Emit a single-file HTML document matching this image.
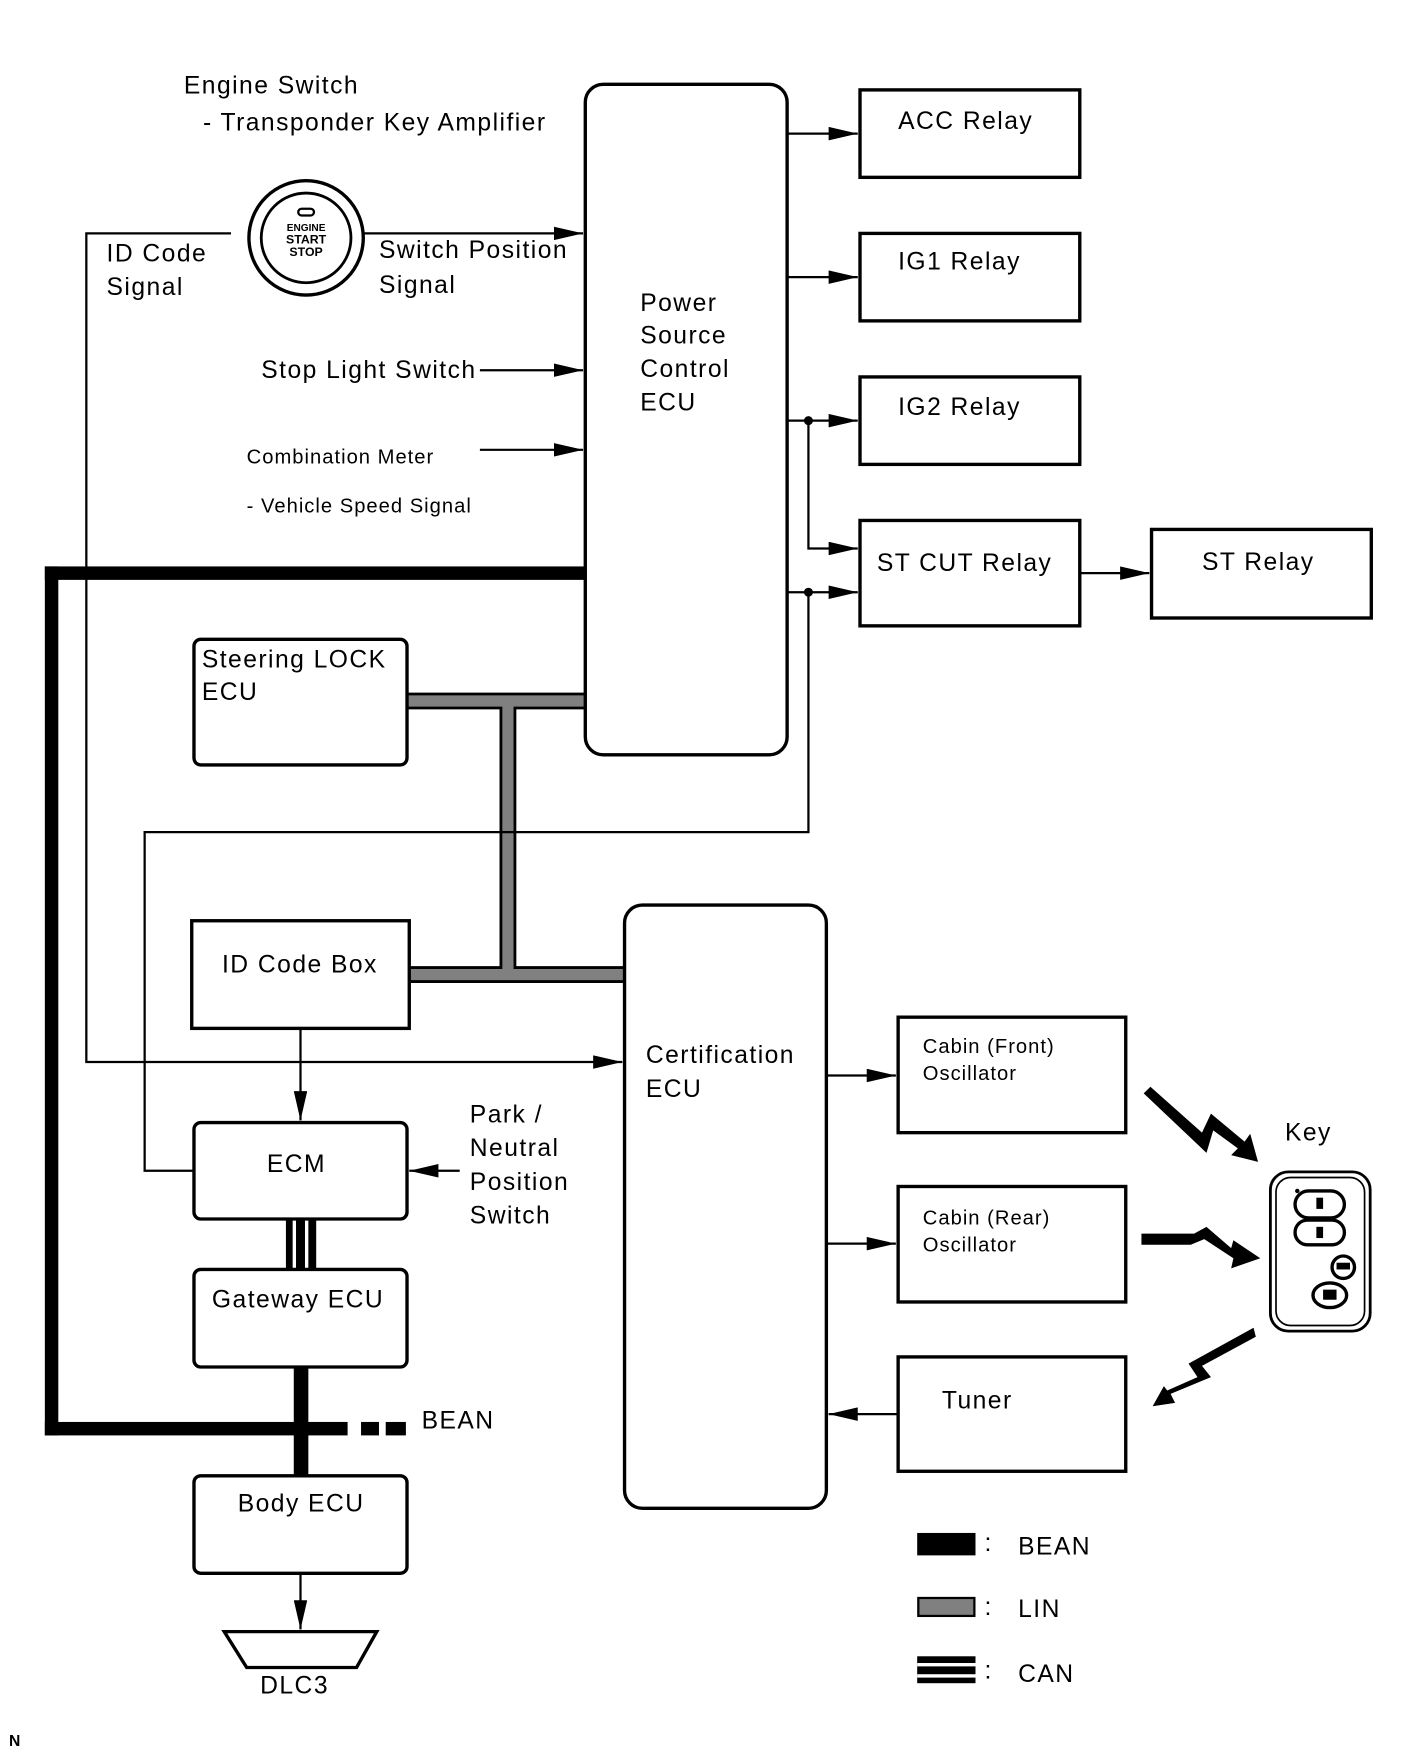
<!DOCTYPE html>
<html><head><meta charset="utf-8"><style>
html,body{margin:0;padding:0;background:#fff;}
svg{display:block;}
text{font-family:"Liberation Sans",Arial,sans-serif;fill:#000;letter-spacing:1.3px;}
text.s{letter-spacing:0.9px;}
</style></head><body>
<svg width="1424" height="1763" viewBox="0 0 1270 1572" xmlns="http://www.w3.org/2000/svg">
<defs>
<marker id="b" viewBox="0 0 10 10" refX="10" refY="5" markerWidth="26" markerHeight="12" markerUnits="userSpaceOnUse" orient="auto" preserveAspectRatio="none"><path d="M0,0 L10,5 L0,10 z" fill="#000"/></marker>
</defs>
<!-- BEAN -->
<g fill="#000">
<rect x="40" y="505" width="482" height="12"/>
<rect x="40" y="505" width="12" height="775"/>
<rect x="40" y="1268" width="270" height="12"/>
<rect x="322" y="1268" width="16" height="12"/><rect x="344" y="1268" width="18" height="12"/>
<rect x="262" y="1219" width="13" height="97"/>
<rect x="818" y="1367" width="52" height="20"/>
</g>
<!-- LIN -->
<g fill="none" stroke-linecap="butt">
<path d="M363,625 H522 M453,625 V869 M365,869 H557" stroke="#000" stroke-width="15"/>
<path d="M363,625 H522 M453,625 V869 M365,869 H557" stroke="#808080" stroke-width="10"/>
</g>
<rect x="819" y="1425" width="50" height="16" fill="#808080" stroke="#000" stroke-width="2"/>
<!-- CAN -->
<rect x="255" y="1087" width="27" height="45" fill="#000"/>
<rect x="261" y="1087" width="3" height="45" fill="#fff"/><rect x="272" y="1087" width="3" height="45" fill="#fff"/>
<rect x="818" y="1477" width="52" height="24" fill="#000"/>
<rect x="818" y="1483" width="52" height="3" fill="#fff"/><rect x="818" y="1493" width="52" height="3" fill="#fff"/>
<!-- boxes -->
<g fill="#fff" stroke="#000" stroke-width="3">
<rect x="522" y="75" width="180" height="598" rx="16"/>
<rect x="557" y="807" width="180" height="538" rx="16"/>
<rect x="767" y="80" width="196" height="78"/>
<rect x="767" y="208" width="196" height="78"/>
<rect x="767" y="336" width="196" height="78"/>
<rect x="767" y="464" width="196" height="94"/>
<rect x="1027" y="472" width="196" height="79"/>
<rect x="173" y="570" width="190" height="112" rx="6"/>
<rect x="171" y="821" width="194" height="96"/>
<rect x="173" y="1001" width="190" height="86" rx="6"/>
<rect x="173" y="1132" width="190" height="87" rx="6"/>
<rect x="173" y="1316" width="190" height="87" rx="6"/>
<rect x="801" y="907" width="203" height="103"/>
<rect x="801" y="1058" width="203" height="103"/>
<rect x="801" y="1210" width="203" height="102"/>
<path d="M200,1455 H336 L318,1487 H220 Z"/>
</g>
<g font-size="22">
<text x="164" y="83">Engine Switch</text>
<text x="181" y="116">- Transponder Key Amplifier</text>
<text x="95" y="233">ID Code</text><text x="95" y="263">Signal</text>
<text x="338" y="230">Switch Position</text><text x="338" y="261">Signal</text>
<text x="233" y="337">Stop Light Switch</text>
<text class="s" x="220" y="413" font-size="18">Combination Meter</text>
<text class="s" x="220" y="457" font-size="18">- Vehicle Speed Signal</text>
<text x="571" y="277">Power</text><text x="571" y="306">Source</text><text x="571" y="336">Control</text><text x="571" y="366">ECU</text>
<text x="801" y="115">ACC Relay</text><text x="801" y="240">IG1 Relay</text><text x="801" y="370">IG2 Relay</text>
<text x="782" y="509">ST CUT Relay</text><text x="1072" y="508">ST Relay</text>
<text x="180" y="595">Steering LOCK</text><text x="180" y="624">ECU</text>
<text x="198" y="867">ID Code Box</text><text x="238" y="1045">ECM</text>
<text x="419" y="1001">Park /</text><text x="419" y="1031">Neutral</text><text x="419" y="1061">Position</text><text x="419" y="1091">Switch</text>
<text x="189" y="1166">Gateway ECU</text><text x="212" y="1348">Body ECU</text>
<text x="376" y="1274">BEAN</text>
<text x="232" y="1510">DLC3</text>
<text x="576" y="948">Certification</text><text x="576" y="978">ECU</text>
<text class="s" x="823" y="939" font-size="18">Cabin (Front)</text><text class="s" x="823" y="963" font-size="18">Oscillator</text>
<text class="s" x="823" y="1092" font-size="18">Cabin (Rear)</text><text class="s" x="823" y="1116" font-size="18">Oscillator</text>
<text x="840" y="1256">Tuner</text>
<text x="1146" y="1017">Key</text>
<text x="878" y="1383">:</text><text x="908" y="1386">BEAN</text>
<text x="878" y="1440">:</text><text x="908" y="1442">LIN</text>
<text x="878" y="1497">:</text><text x="908" y="1500">CAN</text>
<text x="8" y="1557" font-size="14" font-weight="bold">N</text>
</g>
<!-- thin lines -->
<g fill="none" stroke="#000" stroke-width="2">
<path d="M206,208 H77 V947 H555" marker-end="url(#b)"/>
<path d="M325,208 H520" marker-end="url(#b)"/>
<path d="M428,330 H520" marker-end="url(#b)"/>
<path d="M428,401 H520" marker-end="url(#b)"/>
<path d="M702,119 H765" marker-end="url(#b)"/>
<path d="M702,247 H765" marker-end="url(#b)"/>
<path d="M702,375 H765" marker-end="url(#b)"/>
<path d="M721,375 V489 H765" marker-end="url(#b)"/>
<path d="M702,528 H765" marker-end="url(#b)"/>
<path d="M963,511 H1025" marker-end="url(#b)"/>
<path d="M721,528 V742 H129 V1044 H173"/>
<path d="M268,917 V999" marker-end="url(#b)"/>
<path d="M410,1044 H365" marker-end="url(#b)"/>
<path d="M268,1403 V1453" marker-end="url(#b)"/>
<path d="M737,959 H799" marker-end="url(#b)"/>
<path d="M737,1109 H799" marker-end="url(#b)"/>
<path d="M801,1261 H739" marker-end="url(#b)"/>
</g>
<circle cx="721" cy="375" r="4"/><circle cx="721" cy="528" r="4"/>
<!-- engine switch -->
<circle cx="273" cy="212" r="51" fill="#fff" stroke="#000" stroke-width="3"/>
<circle cx="273" cy="212" r="40" fill="none" stroke="#000" stroke-width="2.5"/>
<rect x="266" y="186" width="14" height="6" rx="3" fill="none" stroke="#000" stroke-width="2"/>
<g style="letter-spacing:0">
<text x="273" y="206" font-size="9" font-weight="bold" text-anchor="middle" style="letter-spacing:0">ENGINE</text>
<text x="273" y="217" font-size="11" font-weight="bold" text-anchor="middle" style="letter-spacing:0">START</text>
<text x="273" y="228" font-size="11" font-weight="bold" text-anchor="middle" style="letter-spacing:0">STOP</text>
</g>
<!-- lightning -->
<g fill="#000">
<path d="M1020,975 L1026,969 L1072,1010 L1080,993 L1110,1018 L1115,1011 L1122,1036 L1098,1030 L1104,1024 L1082,1008 L1076,1028 Z"/>
<path d="M1018,1100 L1065,1100 L1076,1094 L1098,1113 L1100,1106 L1124,1122 L1098,1131 L1100,1122 L1074,1105 L1062,1110 L1018,1110 Z"/>
<path d="M1118,1184 L1120,1192 L1072,1218 L1080,1228 L1044,1243 L1048,1251 L1028,1254 L1038,1236 L1041,1240 L1068,1228 L1060,1216 Z"/>
</g>
<!-- key -->
<g fill="none" stroke="#000" stroke-width="2.5">
<rect x="1133" y="1045" width="89" height="142" rx="16"/>
<rect x="1138" y="1050" width="79" height="132" rx="13" stroke-width="1.5"/>
<rect x="1155" y="1062" width="44" height="24" rx="12" stroke-width="3"/>
<rect x="1155" y="1088" width="44" height="22" rx="11" stroke-width="3"/>
<circle cx="1198" cy="1130" r="10" stroke-width="3"/>
<ellipse cx="1186" cy="1155" rx="15" ry="11" stroke-width="3"/>
</g>
<circle cx="1157" cy="1062" r="2"/>
<rect x="1174" y="1068" width="6" height="10" fill="#000"/>
<rect x="1174" y="1094" width="6" height="10" fill="#000"/>
<rect x="1192" y="1126" width="12" height="6" fill="#000"/>
<rect x="1180" y="1150" width="12" height="9" fill="#000"/>
</svg>
</body></html>
